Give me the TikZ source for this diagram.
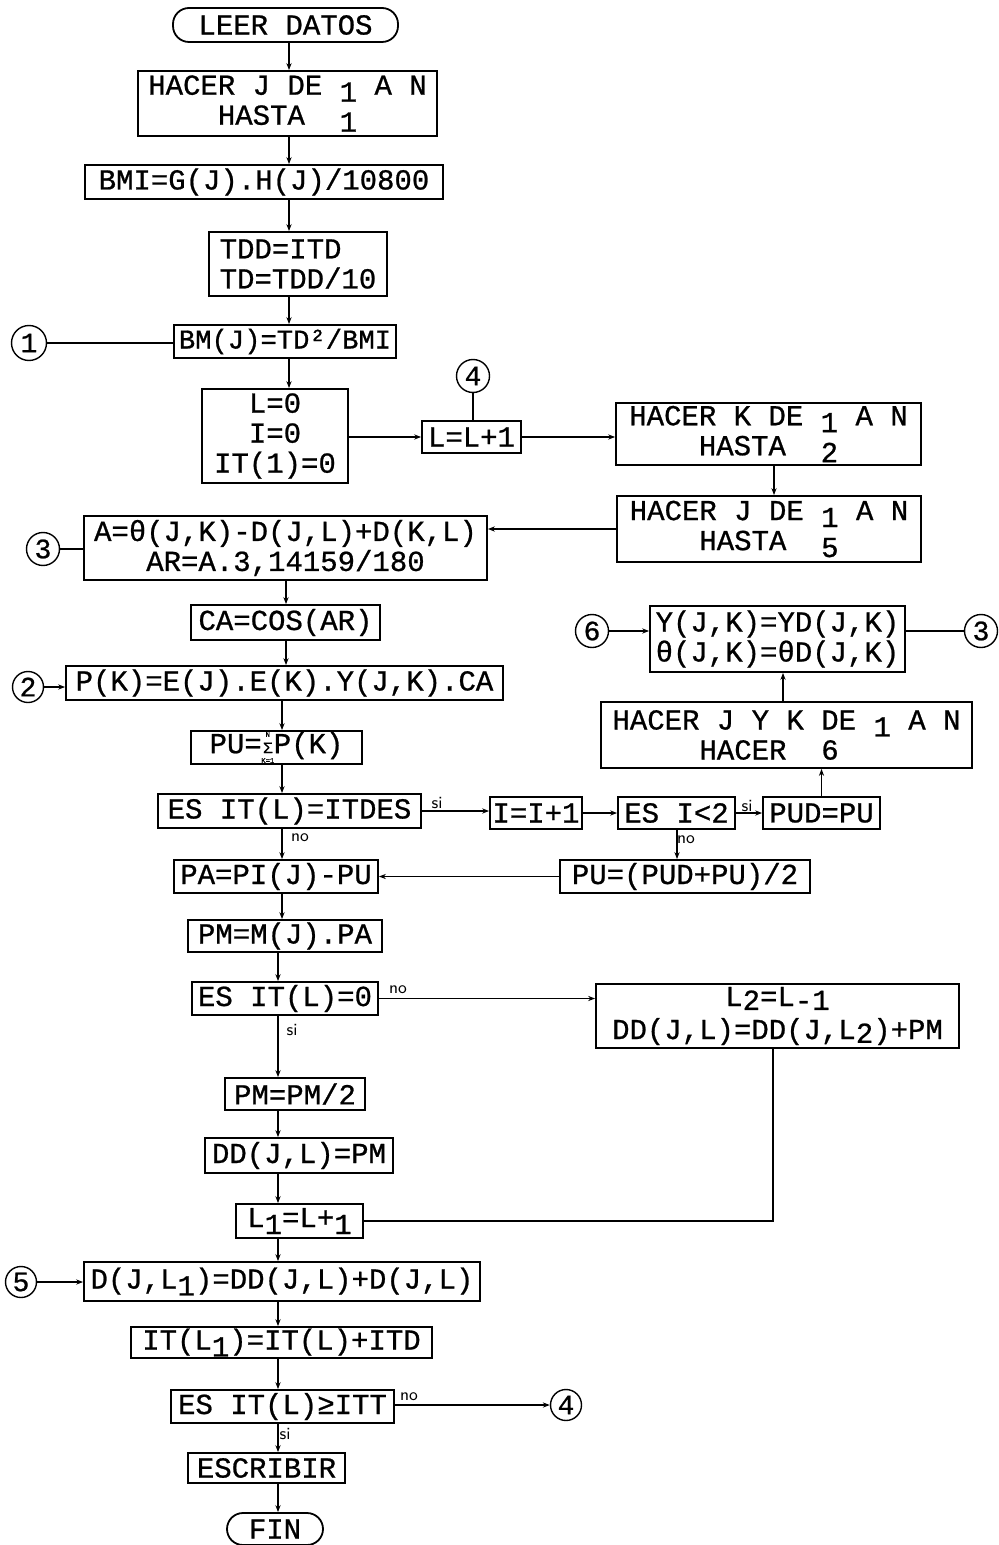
\documentclass[tikz,border=0pt]{standalone}
\usepackage{fontspec}
\newfontfamily\tw[FakeBold=0.8]{Liberation Mono}
\usetikzlibrary{arrows.meta}
\newcommand\lo[1]{\raisebox{-0.45ex}{#1}}
\newcommand\slo[1]{\raisebox{-0.25ex}{#1}}
\newcommand\sig{\hspace{0.6pt}\rlap{\raisebox{8.2pt}{\makebox[4.8pt]{\fontsize{3.6}{4}\selectfont N}}}\rlap{\raisebox{-4.9pt}{\makebox[4.8pt]{\fontsize{3.6}{4}\selectfont K=1}}}{\fontsize{8}{8}\selectfont Σ}\hspace{0.6pt}}
\begin{document}
\begin{tikzpicture}[x=0.5pt,y=-0.5pt,
  box/.style={draw,line width=0.9pt,inner sep=0pt,font=\tw\fontsize{14.5}{15}\selectfont},
  sz/.style 2 args={minimum width=#1*0.5pt,minimum height=#2*0.5pt},
  term/.style={box,rounded corners=8pt},
  con/.style={draw,circle,line width=0.7pt,inner sep=0pt,minimum size=#1*0.5pt,font=\tw\fontsize{14}{14}\selectfont},
  con/.default=33,
  ln/.style={line width=0.6pt},
  arr/.style={ln,-{Stealth[length=3.5pt,width=2.6pt]}},
  lab/.style={font=\sffamily\fontsize{8.5}{9}\selectfont,inner sep=0pt}
]
\useasboundingbox (0,0) rectangle (999,1545);
% spine coordinates
\coordinate (sA) at (289,0);
\coordinate (sB) at (286,0);
\coordinate (sC) at (282,0);
\coordinate (sD) at (278,0);
\coordinate (sE) at (774,0);
\coordinate (sG) at (783,0);
\coordinate (sH) at (677,0);
\coordinate (sI) at (773,0);
% main column
\node[term,sz={225}{34}] (leer) at (285.5,25) {LEER DATOS};
\node[box,sz={299}{65},align=left] (hj1) at (287.5,103.5) {HACER J DE \lo{1} A N\\\phantom{XXXX}HASTA\phantom{XX}\lo{1}};
\node[box,sz={358}{34}] (bmi) at (264,182) {BMI=G(J).H(J)/10800};
\node[box,sz={178}{64},align=left] (tdd) at (298,264) {TDD=ITD\\TD=TDD/10};
\node[box,sz={222}{33},font=\tw\fontsize{13.6}{15}\selectfont] (bm) at (285,341.5) {BM(J)=TD²/BMI};
\node[box,sz={146}{94},align=center] (l0) at (275,436) {L=0\\I=0\\IT(1)=0};
\node[box,sz={99}{32}] (ll1) at (471.5,437) {L=L+1};
\node[box,sz={305}{62},align=left] (hk) at (768.5,434) {HACER K DE \lo{1} A N\\\phantom{XXXX}HASTA\phantom{XX}\lo{2}};
\node[box,sz={304}{66},align=left] (hj5) at (769,529) {HACER J DE \lo{1} A N\\\phantom{XXXX}HASTA\phantom{XX}\lo{5}};
\node[box,sz={403}{64},align=center] (a) at (285.5,548) {A=θ(J,K)-D(J,L)+D(K,L)\\AR=A.3,14159/180};
\node[box,sz={189}{35}] (ca) at (285.5,622.5) {CA=COS(AR)};
\node[box,sz={255}{66},align=left] (y) at (777.5,639) {Y(J,K)=YD(J,K)\\θ(J,K)=θD(J,K)};
\node[box,sz={437}{34}] (pk) at (284.5,683) {P(K)=E(J).E(K).Y(J,K).CA};
\node[box,sz={371}{66},align=left] (hjyk) at (786.5,735) {HACER J Y K DE \lo{1} A N\\\phantom{XXXXX}HACER\phantom{XX}6};
\node[box,sz={171}{33}] (pu) at (276.5,747.5) {PU=\sig P(K)};
\node[box,sz={263}{34}] (es1) at (289.5,811) {ES IT(L)=ITDES};
\node[box,sz={92}{32}] (i1) at (536,813) {I=I+1};
\node[box,sz={117}{32}] (es2) at (676.5,813) {ES I<2};
\node[box,sz={117}{32}] (pud) at (821.5,813) {PUD=PU};
\node[box,sz={250}{33}] (pu2) at (685,876.5) {PU=(PUD+PU)/2};
\node[box,sz={204}{33}] (pa) at (276,876.5) {PA=PI(J)-PU};
\node[box,sz={194}{32}] (pm) at (285,936) {PM=M(J).PA};
\node[box,sz={186}{33}] (es0) at (285,998.5) {ES IT(L)=0};
\node[box,sz={363}{64},align=center,font=\tw\fontsize{14.5}{16.5}\selectfont] (l2) at (777.5,1016) {L\slo{2}=L\slo{-1}\\DD(J,L)=DD(J,L\slo{2})+PM};
\node[box,sz={140}{32}] (pm2) at (295,1094) {PM=PM/2};
\node[box,sz={188}{35}] (dd) at (299,1155.5) {DD(J,L)=PM};
\node[box,sz={127}{34}] (l1) at (299.5,1221) {L\lo{1}=L+\lo{1}};
\node[box,sz={396}{39}] (d) at (282,1281.5) {D(J,L\lo{1})=DD(J,L)+D(J,L)};
\node[box,sz={301}{31}] (it) at (281.5,1342.5) {IT(L\lo{1})=IT(L)+ITD};
\node[box,sz={223}{33}] (es3) at (282.5,1406.5) {ES IT(L)≥ITT};
\node[box,sz={157}{30}] (esc) at (266.5,1468) {ESCRIBIR};
\node[term,sz={96}{32}] (fin) at (275,1529) {FIN};
% connectors (circles)
\node[con=35] (c1) at (29,343) {1};
\node[con] (c4a) at (473,376) {4};
\node[con] (c3a) at (43,549) {3};
\node[con] (c6) at (592,631) {6};
\node[con] (c3b) at (981,631) {3};
\node[con=31] (c2) at (28,687) {2};
\node[con=31] (c5) at (21,1282) {5};
\node[con=31] (c4b) at (566,1405) {4};
% labels
\node[lab] (si1) at (437,803) {si};
\node[lab] (no1) at (300,838) {no};
\node[lab] (si2) at (747,806) {si};
\node[lab] (no2) at (686,840) {no};
\node[lab] (no3) at (398,990) {no};
\node[lab] (si3) at (292,1030) {si};
\node[lab] (no4) at (409,1397) {no};
\node[lab] (si4) at (285,1434) {si};
% main spine
\draw[arr] (leer.south -| sA) -- (hj1.north -| sA);
\draw[arr] (hj1.south -| sA) -- (bmi.north -| sA);
\draw[arr] (bmi.south -| sA) -- (tdd.north -| sA);
\draw[arr] (tdd.south -| sA) -- (bm.north -| sA);
\draw[arr] (bm.south -| sA) -- (l0.north -| sA);
\draw[arr] (a.south -| sB) -- (ca.north -| sB);
\draw[arr] (ca.south -| sB) -- (pk.north -| sB);
\draw[arr] (pk.south -| sC) -- (pu.north -| sC);
\draw[arr] (pu.south -| sC) -- (es1.north -| sC);
\draw[arr] (es1.south -| sC) -- (pa.north -| sC);
\draw[arr] (pa.south -| sC) -- (pm.north -| sC);
\draw[arr] (pm.south -| sD) -- (es0.north -| sD);
\draw[arr] (es0.south -| sD) -- (pm2.north -| sD);
\draw[arr] (pm2.south -| sD) -- (dd.north -| sD);
\draw[arr] (dd.south -| sD) -- (l1.north -| sD);
\draw[arr] (l1.south -| sD) -- (d.north -| sD);
\draw[arr] (d.south -| sD) -- (it.north -| sD);
\draw[arr] (it.south -| sD) -- (es3.north -| sD);
\draw[arr] (es3.south -| sD) -- (esc.north -| sD);
\draw[arr] (esc.south -| sD) -- (fin.north -| sD);
% side connections
\draw[ln] (c1.east) -- (c1.east -| bm.west);
\draw[arr] (l0.east |- ll1.west) -- (ll1.west);
\draw[ln] (c4a.south) -- (c4a.south |- ll1.north);
\draw[arr] (ll1.east) -- (ll1.east -| hk.west);
\draw[arr] (hk.south -| sE) -- (hj5.north -| sE);
\draw[arr] (hj5.west) -- (hj5.west -| a.east);
\draw[ln] (c3a.east) -- (c3a.east -| a.west);
\draw[arr] (c6.east) -- (c6.east -| y.west);
\draw[ln] (y.east |- c3b.west) -- (c3b.west);
\draw[arr] (c2.east) -- (c2.east -| pk.west);
\draw[arr] (pud.north) -- (pud.north |- hjyk.south);
\draw[arr] (hjyk.north -| sG) -- (y.south -| sG);
\draw[arr] (es1.east) -- (es1.east -| i1.west);
\draw[arr] (i1.east) -- (i1.east -| es2.west);
\draw[arr] (es2.east) -- (es2.east -| pud.west);
\draw[arr] (es2.south -| sH) -- (pu2.north -| sH);
\draw[arr] (pu2.west) -- (pu2.west -| pa.east);
\draw[arr] (es0.east) -- (es0.east -| l2.west);
\draw[ln] (l2.south -| sI) |- (l1.east);
\draw[arr] (c5.east) -- (c5.east -| d.west);
\draw[arr] (es3.east |- c4b.west) -- (c4b.west);
\end{tikzpicture}
\end{document}
